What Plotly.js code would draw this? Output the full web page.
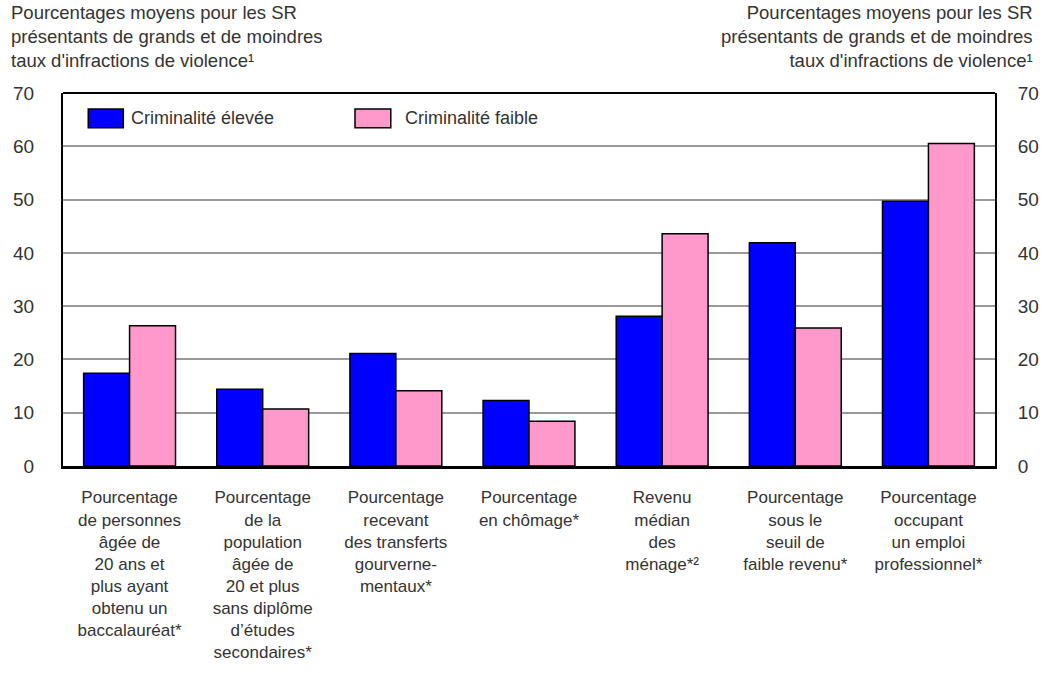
<!DOCTYPE html>
<html>
<head>
<meta charset="utf-8">
<script src="https://cdn.plot.ly/plotly-3.0.1.min.js"></script>
<style>html,body{margin:0;padding:0;background:#fff;}#chart{width:1054px;height:673px;}</style>
</head>
<body>
<div id="chart"></div>
<script>
const categories = [
  "Pourcentage<br>de personnes<br>âgée de<br>20 ans et<br>plus ayant<br>obtenu un<br>baccalauréat*",
  "Pourcentage<br>de la<br>population<br>âgée de<br>20 et plus<br>sans diplôme<br>d’études<br>secondaires*",
  "Pourcentage<br>recevant<br>des transferts<br>gourverne-<br>mentaux*",
  "Pourcentage<br>en chômage*",
  "Revenu<br>médian<br>des<br>ménage*²",
  "Pourcentage<br>sous le<br>seuil de<br>faible revenu*",
  "Pourcentage<br>occupant<br>un emploi<br>professionnel*"
];
const seriesHighName = "Criminalité élevée";
const seriesLowName = "Criminalité faible";
const highCrime = [17.4, 14.4, 21.1, 12.3, 28.1, 41.9, 49.7];
const lowCrime  = [26.3, 10.7, 14.1, 8.4, 43.6, 25.9, 60.5];
const yTickVals = [0, 10, 20, 30, 40, 50, 60, 70];
const axisTitle = "Pourcentages moyens pour les SR<br>présentants de grands et de moindres<br>taux d'infractions de violence¹";

const FONT = "Liberation Sans, Arial, sans-serif";
const TXT = "#333333";
const xIdx = categories.map((_, i) => i);

const traces = [
  {type: "bar", x: xIdx, y: highCrime, name: seriesHighName,
   marker: {color: "#0000FF", line: {color: "#000", width: 1.5}}, hoverinfo: "y"},
  {type: "bar", x: xIdx, y: lowCrime, name: seriesLowName,
   marker: {color: "#FF99CC", line: {color: "#000", width: 1.5}}, hoverinfo: "y"},
  {type: "scatter", x: [0], y: [0], yaxis: "y2", mode: "markers",
   marker: {opacity: 0}, showlegend: false, hoverinfo: "skip"}
];

const layout = {
  width: 1054, height: 673,
  margin: {l: 63, r: 59, t: 93, b: 207},
  paper_bgcolor: "#fff", plot_bgcolor: "#fff",
  font: {family: FONT, size: 17, color: TXT},
  barmode: "group", bargap: 0.31, bargroupgap: 0,
  showlegend: false,
  xaxis: {
    range: [-0.5, 6.5], tickvals: xIdx, ticktext: categories,
    showgrid: false, zeroline: false, showline: true, linecolor: "#000", linewidth: 3,
    ticks: "outside", ticklen: 14, tickcolor: "rgba(0,0,0,0)",
    tickfont: {family: FONT, size: 17, color: TXT}, tickangle: 0
  },
  yaxis: {
    range: [0, 70], tickvals: yTickVals, ticktext: yTickVals.map(String),
    showgrid: true, gridcolor: "#999999", gridwidth: 2,
    zeroline: false, showline: true, linecolor: "#000", linewidth: 2,
    ticks: "outside", ticklen: 23, tickcolor: "rgba(0,0,0,0)",
    tickfont: {family: FONT, size: 19, color: TXT}
  },
  yaxis2: {
    overlaying: "y", side: "right", range: [0, 70], tickvals: yTickVals,
    ticktext: yTickVals.map(String),
    showgrid: false, zeroline: false, showline: true, linecolor: "#000", linewidth: 2,
    ticks: "outside", ticklen: 17, tickcolor: "rgba(0,0,0,0)",
    tickfont: {family: FONT, size: 19, color: TXT}
  },
  shapes: [
    {type: "line", xref: "paper", yref: "paper", x0: 0, x1: 1, y0: 1, y1: 1,
     line: {color: "#000", width: 2}},
    {type: "rect", xref: "paper", yref: "paper", x0: 0.0271, x1: 0.0647, y0: 0.907, y1: 0.957,
     fillcolor: "#0000FF", line: {color: "#000", width: 1.5}},
    {type: "rect", xref: "paper", yref: "paper", x0: 0.3133, x1: 0.3517, y0: 0.907, y1: 0.957,
     fillcolor: "#FF99CC", line: {color: "#000", width: 1.5}}
  ],
  annotations: [
    {text: axisTitle, xref: "paper", yref: "paper", x: -0.058, y: 1.25, xanchor: "left", yanchor: "top",
     align: "left", showarrow: false, font: {family: FONT, size: 18.5, color: TXT}},
    {text: axisTitle, xref: "paper", yref: "paper", x: 1.043, y: 1.25, xanchor: "right", yanchor: "top",
     align: "right", showarrow: false, font: {family: FONT, size: 18.5, color: TXT}},
    {text: seriesHighName, xref: "paper", yref: "paper", x: 0.0708, y: 0.932, xanchor: "left", yanchor: "middle",
     showarrow: false, font: {family: FONT, size: 18, color: TXT}},
    {text: seriesLowName, xref: "paper", yref: "paper", x: 0.365, y: 0.932, xanchor: "left", yanchor: "middle",
     showarrow: false, font: {family: FONT, size: 18, color: TXT}}
  ]
};

Plotly.newPlot("chart", traces, layout, {displayModeBar: false, staticPlot: true});
</script>
</body>
</html>
